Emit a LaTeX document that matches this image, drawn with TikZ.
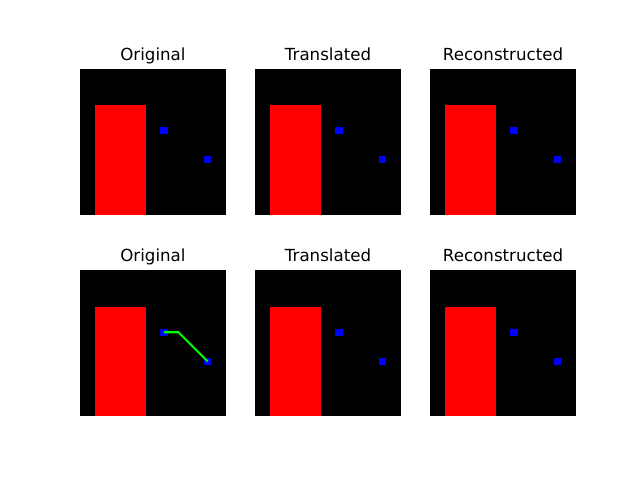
\documentclass[tikz,border=0pt]{standalone}
\usepackage{fontspec}
\setmainfont{DejaVu Sans}
\usepackage{tikz}
\usetikzlibrary{positioning}

\begin{document}
\begin{tikzpicture}[x=0.72pt, y=-0.72pt,
    title/.style={font=\fontsize{12}{14}\selectfont, anchor=base, inner sep=0pt},
    bluepix/.style={fill=blue, inner sep=0pt, minimum size=5.25pt}]
\useasboundingbox (0,0) rectangle (640,480);
\def\cell{7.296}

% six image panels, 20x20 pixels each
\foreach \col/\px/\name in {1/80/Original, 2/255.1/Translated, 3/430.1/Reconstructed} {
  \foreach \row/\py in {1/68.65, 2/270.25} {
    \node[title] (t\row\col) at (\px+72.95,\py-8.33) {\name};
    \fill[black] (\px,\py) rectangle ++(145.9,145.9);
    % red block
    \fill[red] (\px+2*\cell,\py+5*\cell) rectangle (\px+9*\cell,\py+20*\cell);
    % blue points
    \node[bluepix] (b\row\col) at (\px+11.5*\cell,\py+8.5*\cell) {};
    \node[bluepix] (q\row\col) at (\px+17.5*\cell,\py+12.5*\cell) {};
  }
}

% path between the points
\coordinate (bend) at (80+13.5*\cell,270.25+8.5*\cell);
\draw[green, line width=1.5pt] (b21.center) -- (bend) -- (q21.center);
\end{tikzpicture}
\end{document}
